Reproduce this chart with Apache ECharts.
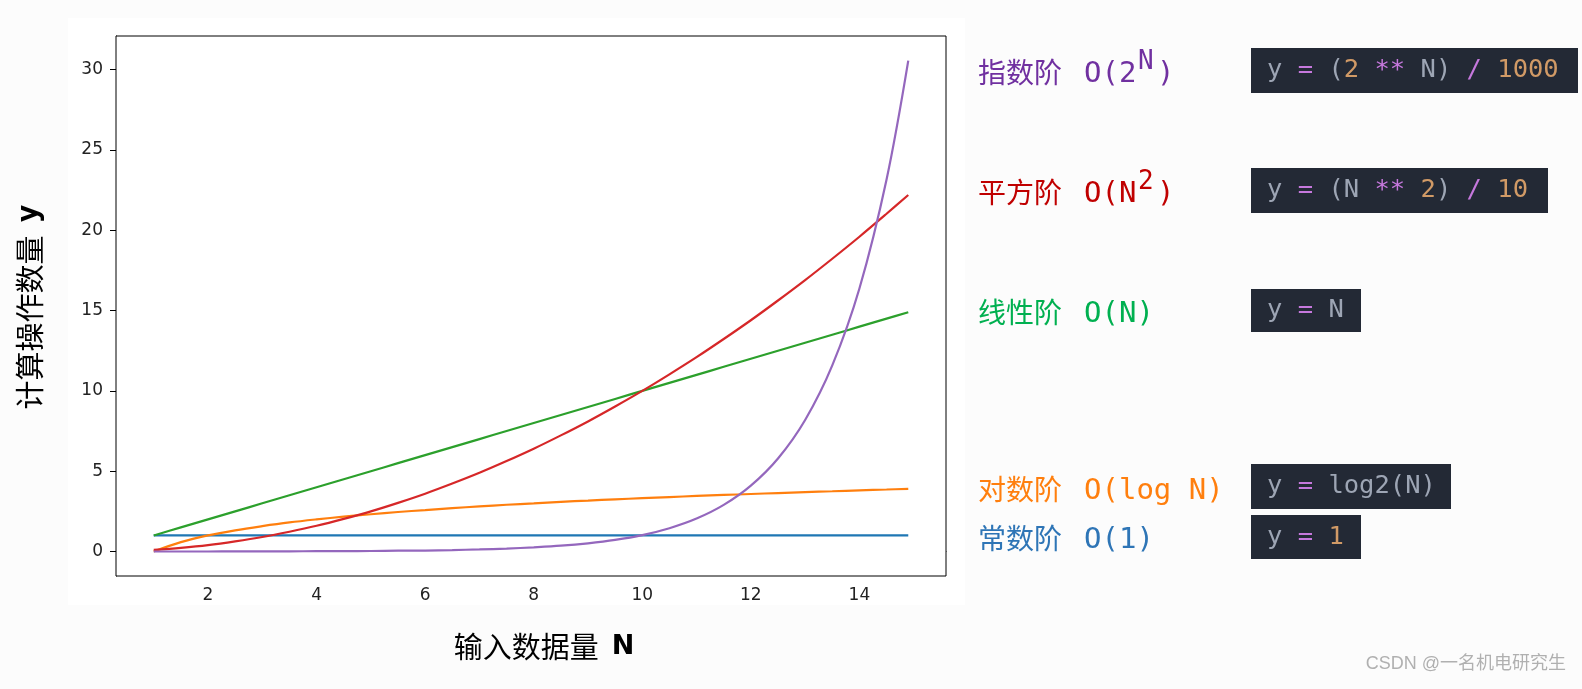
<!DOCTYPE html>
<html>
<head>
<meta charset="utf-8">
<script src="https://cdn.jsdelivr.net/npm/echarts@6/dist/echarts.min.js"></script>
<style>
html,body{margin:0;padding:0;background:#fcfcfc;}
#main{width:1582px;height:689px;}
</style>
</head>
<body>
<div id="main"></div>
<script>
// ---- data ----
const xN = [1, 1.5, 2, 2.5, 3, 3.5, 4, 4.5, 5, 5.5, 6, 6.5, 7, 7.5, 8, 8.5, 9, 9.5, 10, 10.5, 11, 11.5, 12, 12.5, 13, 13.5, 14, 14.5, 14.9];
const yConst = [1, 1, 1, 1, 1, 1, 1, 1, 1, 1, 1, 1, 1, 1, 1, 1, 1, 1, 1, 1, 1, 1, 1, 1, 1, 1, 1, 1, 1];
const yLog = [0, 0.58, 1, 1.32, 1.58, 1.81, 2, 2.17, 2.32, 2.46, 2.58, 2.7, 2.81, 2.91, 3, 3.09, 3.17, 3.25, 3.32, 3.39, 3.46, 3.52, 3.58, 3.64, 3.7, 3.75, 3.81, 3.86, 3.9];
const yLinear = [1, 1.5, 2, 2.5, 3, 3.5, 4, 4.5, 5, 5.5, 6, 6.5, 7, 7.5, 8, 8.5, 9, 9.5, 10, 10.5, 11, 11.5, 12, 12.5, 13, 13.5, 14, 14.5, 14.9];
const yQuad = [0.1, 0.23, 0.4, 0.63, 0.9, 1.23, 1.6, 2.03, 2.5, 3.03, 3.6, 4.23, 4.9, 5.63, 6.4, 7.23, 8.1, 9.03, 10, 11.03, 12.1, 13.23, 14.4, 15.63, 16.9, 18.23, 19.6, 21.03, 22.2];
const yExp = [0, 0, 0, 0.01, 0.01, 0.01, 0.02, 0.02, 0.03, 0.05, 0.06, 0.09, 0.13, 0.18, 0.26, 0.36, 0.51, 0.72, 1.02, 1.45, 2.05, 2.9, 4.1, 5.79, 8.19, 11.59, 16.38, 23.17, 30.57];
const xTicks = [2, 4, 6, 8, 10, 12, 14];
const yTicks = [0, 5, 10, 15, 20, 25, 30];
const xTitle = '输入数据量';
const xTitleVar = 'N';
const yTitle = '计算操作数量';
const yTitleVar = 'y';
const seriesNames = ['常数阶', '对数阶', '线性阶', '平方阶', '指数阶'];
// right-hand annotation texts
const labelCn = ['指数阶', '平方阶', '线性阶', '对数阶', '常数阶'];
const labelO = ['O(2', 'O(N', 'O(N)', 'O(log N)', 'O(1)'];
const labelSup = ['N', '2', '', '', ''];
const codeRich = [
  '{g|y} {p|=} {g|(}{o|2} {p|**} {g|N)} {p|/} {o|1000}',
  '{g|y} {p|=} {g|(N} {p|**} {o|2}{g|)} {p|/} {o|10}',
  '{g|y} {p|=} {g|N}',
  '{g|y} {p|=} {g|log2(N)}',
  '{g|y} {p|=} {o|1}'
];
const watermark = 'CSDN @一名机电研究生';

// ---- styling ----
const lineColors = ['#1f77b4', '#ff7f0e', '#2ca02c', '#d62728', '#9467bd'];
const labelColors = ['#7030a0', '#c00000', '#00b050', '#ff7f0e', '#2e75b6'];
const rowCenters = [72.5, 192, 312, 489, 538];
const boxes = [[1251, 48, 1578, 93], [1251, 168, 1548, 213], [1251, 289, 1361, 332], [1251, 464, 1451, 509], [1251, 515, 1361, 559]];

const seriesY = [yConst, yLog, yLinear, yQuad, yExp];
const series = seriesY.map((arr, i) => ({
  name: seriesNames[i],
  type: 'line',
  data: xN.map((x, j) => [x, arr[j]]),
  showSymbol: false,
  smooth: 0.35,
  lineStyle: { color: lineColors[i], width: 2.2 },
  itemStyle: { color: lineColors[i] },
  z: 2 + i
}));

const CJK = '"Noto Sans CJK SC", sans-serif';
const MONO = '"DejaVu Sans Mono", "Noto Sans CJK SC", monospace';

const graphics = [];
graphics.push({ type: 'rect', shape: { x: 68, y: 18, width: 897, height: 587 }, style: { fill: '#ffffff' }, z: -10, silent: true });

// axis titles
graphics.push({
  type: 'text', x: 544, y: 647,
  style: {
    text: '{c|' + xTitle + '}  {b|' + xTitleVar + '}',
    align: 'center', verticalAlign: 'middle',
    fontFamily: CJK, fontSize: 29, fill: '#000',
    rich: {
      c: { fontFamily: CJK, fontSize: 29, fill: '#000' },
      b: { fontFamily: '"DejaVu Sans", sans-serif', fontWeight: 'bold', fontSize: 27, fill: '#000' }
    }
  }
});
graphics.push({
  type: 'text', x: 30, y: 307, rotation: Math.PI / 2,
  style: {
    text: '{c|' + yTitle + '}  {b|' + yTitleVar + '}',
    align: 'center', verticalAlign: 'middle',
    fontFamily: CJK, fontSize: 29, fill: '#000',
    rich: {
      c: { fontFamily: CJK, fontSize: 29, fill: '#000' },
      b: { fontFamily: '"DejaVu Sans Mono", monospace', fontWeight: 'bold', fontSize: 30, fill: '#000' }
    }
  }
});

// right annotations
for (let i = 0; i < 5; i++) {
  const c = rowCenters[i];
  graphics.push({ type: 'text', x: 978, y: c, style: { text: labelCn[i], fontFamily: CJK, fontSize: 28, fill: labelColors[i], align: 'left', verticalAlign: 'middle' } });
  graphics.push({ type: 'text', x: 1084, y: c + 2, style: { text: labelO[i], fontFamily: MONO, fontSize: 29, fill: labelColors[i], align: 'left', verticalAlign: 'middle' } });
  if (labelSup[i]) {
    graphics.push({ type: 'text', x: 1138, y: c - 10, style: { text: labelSup[i], fontFamily: MONO, fontSize: 26, fill: labelColors[i], align: 'left', verticalAlign: 'middle' } });
    graphics.push({ type: 'text', x: 1157, y: c + 2, style: { text: ')', fontFamily: MONO, fontSize: 29, fill: labelColors[i], align: 'left', verticalAlign: 'middle' } });
  }
  const b = boxes[i];
  graphics.push({ type: 'rect', shape: { x: b[0], y: b[1], width: b[2] - b[0], height: b[3] - b[1] }, style: { fill: '#232935' } });
  graphics.push({
    type: 'text', x: 1267, y: (b[1] + b[3]) / 2,
    style: {
      text: codeRich[i], align: 'left', verticalAlign: 'middle',
      fontFamily: MONO, fontSize: 25.5, fill: '#9da5b4',
      rich: {
        g: { fontFamily: MONO, fontSize: 25.5, fill: '#9da5b4' },
        p: { fontFamily: MONO, fontSize: 25.5, fill: '#c678dd' },
        o: { fontFamily: MONO, fontSize: 25.5, fill: '#d19a66' }
      }
    }
  });
}
graphics.push({ type: 'text', x: 1566, y: 664, style: { text: watermark, fontFamily: '"Liberation Sans", "Noto Sans CJK SC", sans-serif', fontSize: 18, fill: '#b0b0b0', align: 'right', verticalAlign: 'middle' } });

const chart = echarts.init(document.getElementById('main'), null, { renderer: 'canvas' });
chart.setOption({
  animation: false,
  backgroundColor: '#fcfcfc',
  grid: { left: 116, top: 36, width: 830, height: 540, show: true, borderColor: '#000', borderWidth: 1, backgroundColor: '#fff', z: 1 },
  xAxis: {
    type: 'value', min: 0.305, max: 15.595,
    splitLine: { show: false },
    axisLine: { show: true, lineStyle: { color: '#000', width: 1 } },
    axisTick: { show: true, customValues: xTicks, length: 6, lineStyle: { color: '#000' } },
    axisLabel: { customValues: xTicks, fontSize: 17, color: '#222', margin: 11, fontFamily: '"DejaVu Sans", sans-serif' }
  },
  yAxis: {
    type: 'value', min: -1.526, max: 32.1,
    splitLine: { show: false },
    axisLine: { show: true, lineStyle: { color: '#000', width: 1 } },
    axisTick: { show: true, customValues: yTicks, length: 6, lineStyle: { color: '#000' } },
    axisLabel: { customValues: yTicks, fontSize: 17, color: '#222', margin: 13, fontFamily: '"DejaVu Sans", sans-serif' }
  },
  series: series,
  graphic: { elements: graphics }
});
</script>
</body>
</html>
